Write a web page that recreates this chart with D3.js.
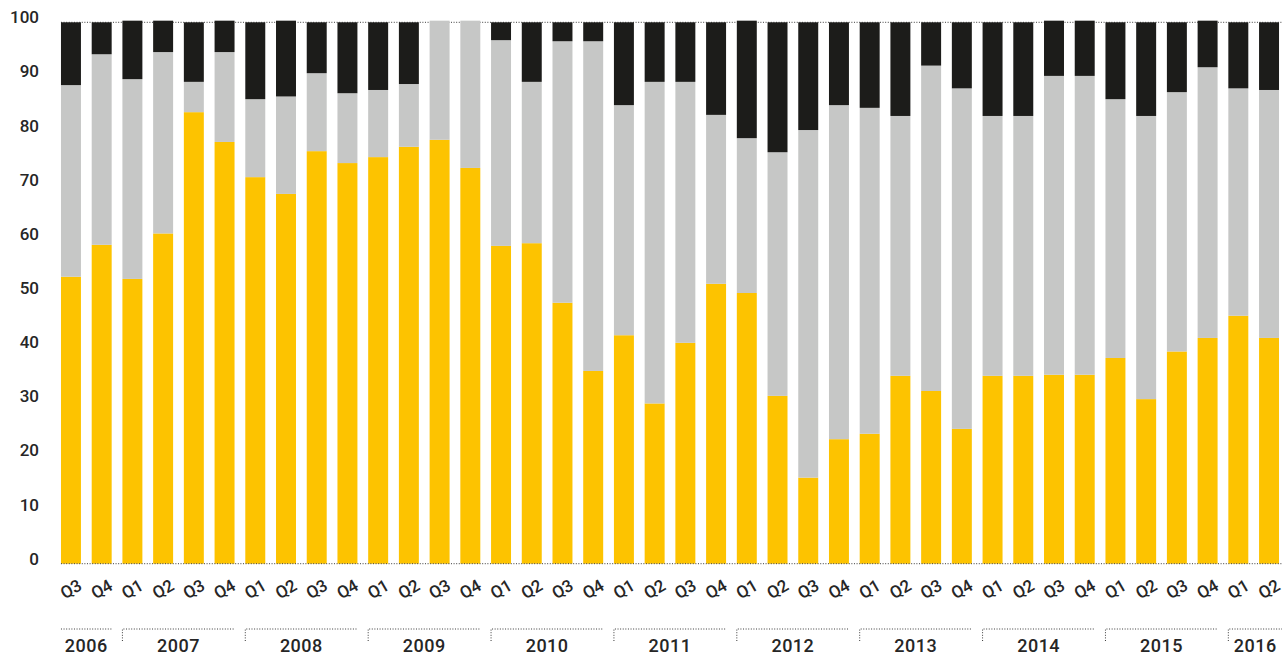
<!DOCTYPE html>
<html>
<head>
<meta charset="utf-8">
<script src="https://cdn.jsdelivr.net/npm/d3@7"></script>
<style>
  html, body { margin: 0; padding: 0; background: #fff; }
  svg { display: block; }
  text { font-family: Roboto, "DejaVu Sans", sans-serif; fill: #262626; font-weight: 500; }
</style>
</head>
<body>
<svg id="chart" width="1282" height="657"></svg>
<script>
// Quarterly shares, 2006 Q3 – 2016 Q2 (percent of total)
const quarters = [
  "Q3","Q4",
  "Q1","Q2","Q3","Q4",
  "Q1","Q2","Q3","Q4",
  "Q1","Q2","Q3","Q4",
  "Q1","Q2","Q3","Q4",
  "Q1","Q2","Q3","Q4",
  "Q1","Q2","Q3","Q4",
  "Q1","Q2","Q3","Q4",
  "Q1","Q2","Q3","Q4",
  "Q1","Q2","Q3","Q4",
  "Q1","Q2"
];
const years = ["2006","2007","2008","2009","2010","2011","2012","2013","2014","2015","2016"];

const yellowShare = [
  53.0, 58.9,
  52.6, 61.0, 83.4, 77.9,
  71.4, 68.3, 76.2, 74.0,
  75.1, 77.0, 78.3, 73.1,
  58.7, 59.2, 48.2, 35.6,
  42.2, 29.6, 40.8, 51.7,
  50.0, 31.0, 15.9, 23.0,
  24.0, 34.7, 31.9, 24.9,
  34.7, 34.7, 34.9, 34.9,
  38.0, 30.4, 39.2, 41.7,
  45.8, 41.7
];
const greyShare = [
  35.4, 35.2,
  36.9, 33.5, 5.6, 16.6,
  14.4, 18.0, 14.4, 12.9,
  12.4, 11.6, 22.0, 27.2,
  38.0, 29.8, 48.3, 60.9,
  42.5, 59.4, 48.2, 31.2,
  28.6, 45.0, 64.2, 61.7,
  60.2, 48.0, 60.1, 62.9,
  48.0, 48.0, 55.2, 55.2,
  47.8, 52.3, 47.9, 50.0,
  42.0, 45.8
];
const blackShare = [
  11.6, 5.9,
  10.8, 5.8, 11.0, 5.8,
  14.2, 14.0, 9.4, 13.1,
  12.5, 11.4, 0.0, 0.0,
  3.3, 11.0, 3.5, 3.5,
  15.3, 11.0, 11.0, 17.1,
  21.7, 24.0, 19.9, 15.3,
  15.8, 17.3, 8.0, 12.2,
  17.3, 17.3, 10.2, 10.2,
  14.2, 17.3, 12.9, 8.6,
  12.2, 12.5
];
const yTicks = [0, 10, 20, 30, 40, 50, 60, 70, 80, 90, 100];

const colors = { yellow: "#fdc300", grey: "#c6c7c6", black: "#1c1c1a" };

const svg = d3.select("#chart");
const W = +svg.attr("width");

const rows = quarters.map((q, i) => ({
  i, yellow: yellowShare[i], grey: greyShare[i], black: blackShare[i]
}));

const x = d3.scaleBand()
  .domain(d3.range(quarters.length))
  .range([55.6, 1284.4])
  .paddingInner(0.35)
  .paddingOuter(0.175);

const y = d3.scaleLinear().domain([0, 100]).range([563.7, 22.3]);

const dotted = sel => sel
  .attr("stroke", "#3a3a3a")
  .attr("stroke-width", 1)
  .attr("stroke-dasharray", "1,1.6")
  .attr("fill", "none");

// top reference line (behind the bars)
svg.append("line")
  .attr("x1", x(0)).attr("x2", W)
  .attr("y1", y(100)).attr("y2", y(100))
  .call(dotted);

// stacked bars
const series = d3.stack().keys(["yellow", "grey", "black"])(rows);
svg.append("g")
  .selectAll("g")
  .data(series)
  .join("g")
  .attr("fill", d => colors[d.key])
  .selectAll("rect")
  .data(d => d)
  .join("rect")
  .attr("x", d => x(d.data.i))
  .attr("width", x.bandwidth())
  .attr("y", d => y(d[1]))
  .attr("height", d => Math.max(0, y(d[0]) - y(d[1])));

// baseline drawn over the bars
svg.append("line")
  .attr("x1", x(0)).attr("x2", W)
  .attr("y1", y(0)).attr("y2", y(0))
  .call(dotted);

// y-axis labels
svg.append("g")
  .selectAll("text")
  .data(yTicks)
  .join("text")
  .attr("x", 39)
  .attr("y", d => y(d) + 1)
  .attr("text-anchor", "end")
  .attr("font-size", 17)
  .text(d => d);

// quarter labels, slanted
svg.append("g")
  .selectAll("text")
  .data(quarters)
  .join("text")
  .attr("transform", (d, i) => `translate(${x(i) + x.bandwidth() / 2},589) rotate(-30)`)
  .attr("text-anchor", "middle")
  .attr("dy", "0.35em")
  .attr("font-size", 17)
  .text(d => d);

// group bars by calendar year
const yearOf = [];
let yi = 0;
quarters.forEach((q, i) => { if (q === "Q1" && i > 0) yi++; yearOf.push(yi); });
const groups = years.map((yr, k) => {
  const idx = yearOf.map((v, i) => v === k ? i : -1).filter(i => i >= 0);
  return { yr, first: idx[0], last: idx[idx.length - 1], k };
});

const bracketY = 629, tickLen = 12;
const gb = svg.append("g");
groups.forEach(g => {
  const x0 = x(g.first);
  const x1 = g.k === groups.length - 1 ? W : x(g.last) + x.bandwidth();
  const path = g.k === 0
    ? `M${x0},${bracketY}H${x1}`
    : `M${x0},${bracketY + tickLen}V${bracketY}H${x1}`;
  gb.append("path").attr("d", path).call(dotted);
  gb.append("text")
    .attr("x", (x0 + x1) / 2)
    .attr("y", 652)
    .attr("text-anchor", "middle")
    .attr("font-size", 18)
    .attr("letter-spacing", "0.5px")
    .text(g.yr);
});
</script>
</body>
</html>
